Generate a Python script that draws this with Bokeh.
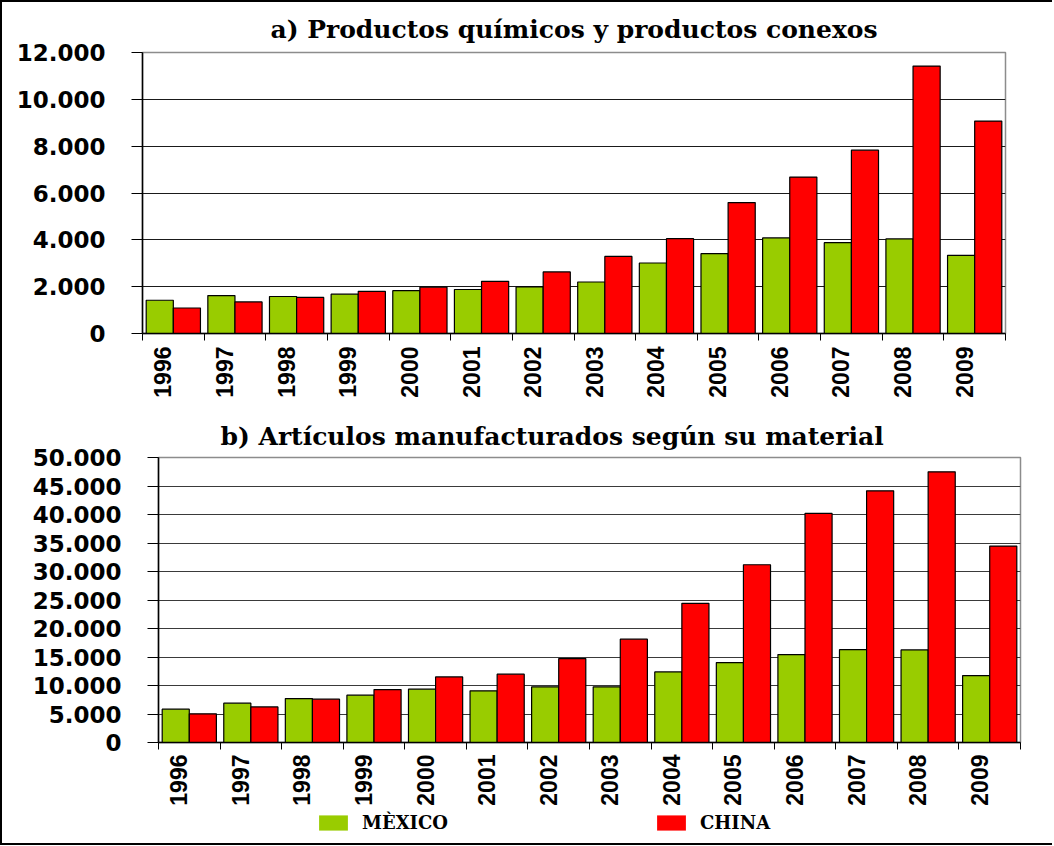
import math
from bokeh.plotting import figure
from bokeh.models import (ColumnDataSource, Range1d, FixedTicker, LinearAxis,
                          Legend, LegendItem)
from bokeh.transform import dodge
from bokeh.layouts import column, row
from bokeh.embed import file_html
from bokeh.resources import INLINE

# ---------------- data ----------------
years = ["1996", "1997", "1998", "1999", "2000", "2001", "2002",
         "2003", "2004", "2005", "2006", "2007", "2008", "2009"]

# a) Productos químicos y productos conexos
a_mexico = [1420, 1620, 1580, 1680, 1830, 1880, 1990, 2200, 3010, 3410, 4080, 3880, 4040, 3340]
a_china = [1090, 1350, 1540, 1800, 1980, 2230, 2630, 3290, 4050, 5590, 6680, 7830, 11420, 9070]

# b) Artículos manufacturados según su material
b_mexico = [5850, 6900, 7710, 8300, 9360, 9060, 9760, 9760, 12390, 14020, 15420, 16290, 16240, 11740]
b_china = [5030, 6250, 7600, 9290, 11510, 11980, 14720, 18120, 24420, 31180, 40190, 44150, 47480, 34460]

a_yticks = [0, 2000, 4000, 6000, 8000, 10000, 12000]
a_ylabels = ["0", "2.000", "4.000", "6.000", "8.000", "10.000", "12.000"]
b_yticks = [0, 5000, 10000, 15000, 20000, 25000, 30000, 35000, 40000, 45000, 50000]
b_ylabels = ["0", "5.000", "10.000", "15.000", "20.000", "25.000", "30.000",
             "35.000", "40.000", "45.000", "50.000"]

series_names = ["MÈXICO", "CHINA"]
title_a = "a) Productos químicos y productos conexos"
title_b = "b) Artículos manufacturados según su material"

GREEN = "#99CC00"
RED = "#FF0000"
W = 1050


def make_chart(title, src, yticks, ylabels, height, borders, grid_color,
               title_align, title_offset, title_standoff, label_standoff):
    left, right, top, bottom = borders
    p = figure(width=W, height=height, x_range=Range1d(0, len(years)),
               y_range=Range1d(0, yticks[-1]), output_backend="svg",
               toolbar_location=None, min_border_left=left, min_border_right=right,
               min_border_top=top, min_border_bottom=bottom)
    p.background_fill_color = "white"
    p.border_fill_color = "white"
    p.outline_line_color = "#8c8c8c"
    p.outline_line_width = 1.5

    p.vbar(x=dodge("i", 0.28), top="mex", width=0.44, source=src,
           fill_color=GREEN, line_color="black", line_width=1.2)
    p.vbar(x=dodge("i", 0.72), top="chi", width=0.44, source=src,
           fill_color=RED, line_color="black", line_width=1.2)

    p.title.text = title
    p.title.text_font = "DejaVu Serif"
    p.title.text_font_style = "bold"
    p.title.text_font_size = "25px"
    p.title.text_color = "black"
    p.title.align = title_align
    p.title.offset = title_offset
    p.title.standoff = title_standoff

    ya = p.yaxis[0]
    ya.ticker = FixedTicker(ticks=yticks)
    ya.major_label_overrides = {t: l for t, l in zip(yticks, ylabels)}
    ya.major_label_text_font = "DejaVu Sans"
    ya.major_label_text_font_style = "bold"
    ya.major_label_text_font_size = "23px"
    ya.major_label_text_color = "black"
    ya.axis_line_color = "black"
    ya.axis_line_width = 1.5
    ya.major_tick_line_color = "black"
    ya.major_tick_in = 0
    ya.major_tick_out = 11
    ya.minor_tick_line_color = None
    ya.major_label_standoff = 26

    # boundary ticks between the years
    xa = p.xaxis[0]
    xa.ticker = FixedTicker(ticks=list(range(len(years) + 1)))
    xa.major_label_overrides = {i: " " for i in range(len(years) + 1)}
    xa.major_label_text_font_size = "1px"
    xa.major_label_standoff = 0
    xa.axis_line_color = "black"
    xa.axis_line_width = 1.5
    xa.major_tick_line_color = "black"
    xa.major_tick_in = 0
    xa.major_tick_out = 7
    xa.minor_tick_line_color = None

    # year labels
    label_pos = [i + 0.33 for i in range(len(years))]
    xl = LinearAxis(ticker=FixedTicker(ticks=label_pos),
                    major_label_overrides={t: y for t, y in zip(label_pos, years)})
    xl.axis_line_color = None
    xl.major_tick_line_color = None
    xl.minor_tick_line_color = None
    xl.major_label_orientation = math.pi / 2
    xl.major_label_text_font = "Liberation Sans"
    xl.major_label_text_font_style = "bold"
    xl.major_label_text_font_size = "23px"
    xl.major_label_text_color = "black"
    xl.major_label_standoff = label_standoff
    p.add_layout(xl, "below")

    p.xgrid.grid_line_color = None
    p.ygrid.ticker = FixedTicker(ticks=yticks)
    p.ygrid.grid_line_color = grid_color
    p.ygrid.grid_line_width = 1.2
    return p


src_a = ColumnDataSource(dict(i=list(range(len(years))), mex=a_mexico, chi=a_china))
src_b = ColumnDataSource(dict(i=list(range(len(years))), mex=b_mexico, chi=b_china))

p1 = make_chart(title_a, src_a, a_yticks, a_ylabels, 408,
                (140, 47, 50, 77), "#1a1a1a", "center", 0, 17, -4)
p2 = make_chart(title_b, src_b, b_yticks, b_ylabels, 398,
                (156, 32, 47, 65), "#3a3a3a", "left", 62, 14, -5)

# legend strip: its renderers have zero-width bars, so only the legend is visible
pl = figure(width=W, height=35, x_range=Range1d(0, len(years)), y_range=Range1d(0, 1),
            output_backend="svg", toolbar_location=None, min_border=0,
            x_axis_location=None, y_axis_location=None)
pl.outline_line_color = None
pl.xgrid.grid_line_color = None
pl.ygrid.grid_line_color = None
pl.background_fill_color = "white"
pl.border_fill_color = "white"
g1 = pl.vbar(x=dodge("i", 0.28), top="mex", width=0, source=src_b,
             fill_color=GREEN, line_color=None)
g2 = pl.vbar(x=dodge("i", 0.72), top="chi", width=0, source=src_b,
             fill_color=RED, line_color=None)
lg = Legend(items=[LegendItem(label=series_names[0], renderers=[g1]),
                   LegendItem(label=series_names[1], renderers=[g2])],
            orientation="horizontal", location=(313, 10))
lg.glyph_width = 36
lg.glyph_height = 19
lg.label_height = 19
lg.label_width = 281
lg.label_standoff = 11
lg.spacing = 10
lg.padding = 0
lg.margin = 0
lg.border_line_color = None
lg.background_fill_alpha = 0
lg.label_text_font = "DejaVu Serif"
lg.label_text_font_style = "bold"
lg.label_text_font_size = "18px"
lg.label_text_color = "black"
pl.add_layout(lg, "center")

layout = column(row(p1), row(p2), row(pl), spacing=0,
                styles={"border-left": "2px solid black",
                        "border-top": "2px solid black",
                        "border-bottom": "2px solid black"})
open("out.html", "w").write(file_html(layout, INLINE))
